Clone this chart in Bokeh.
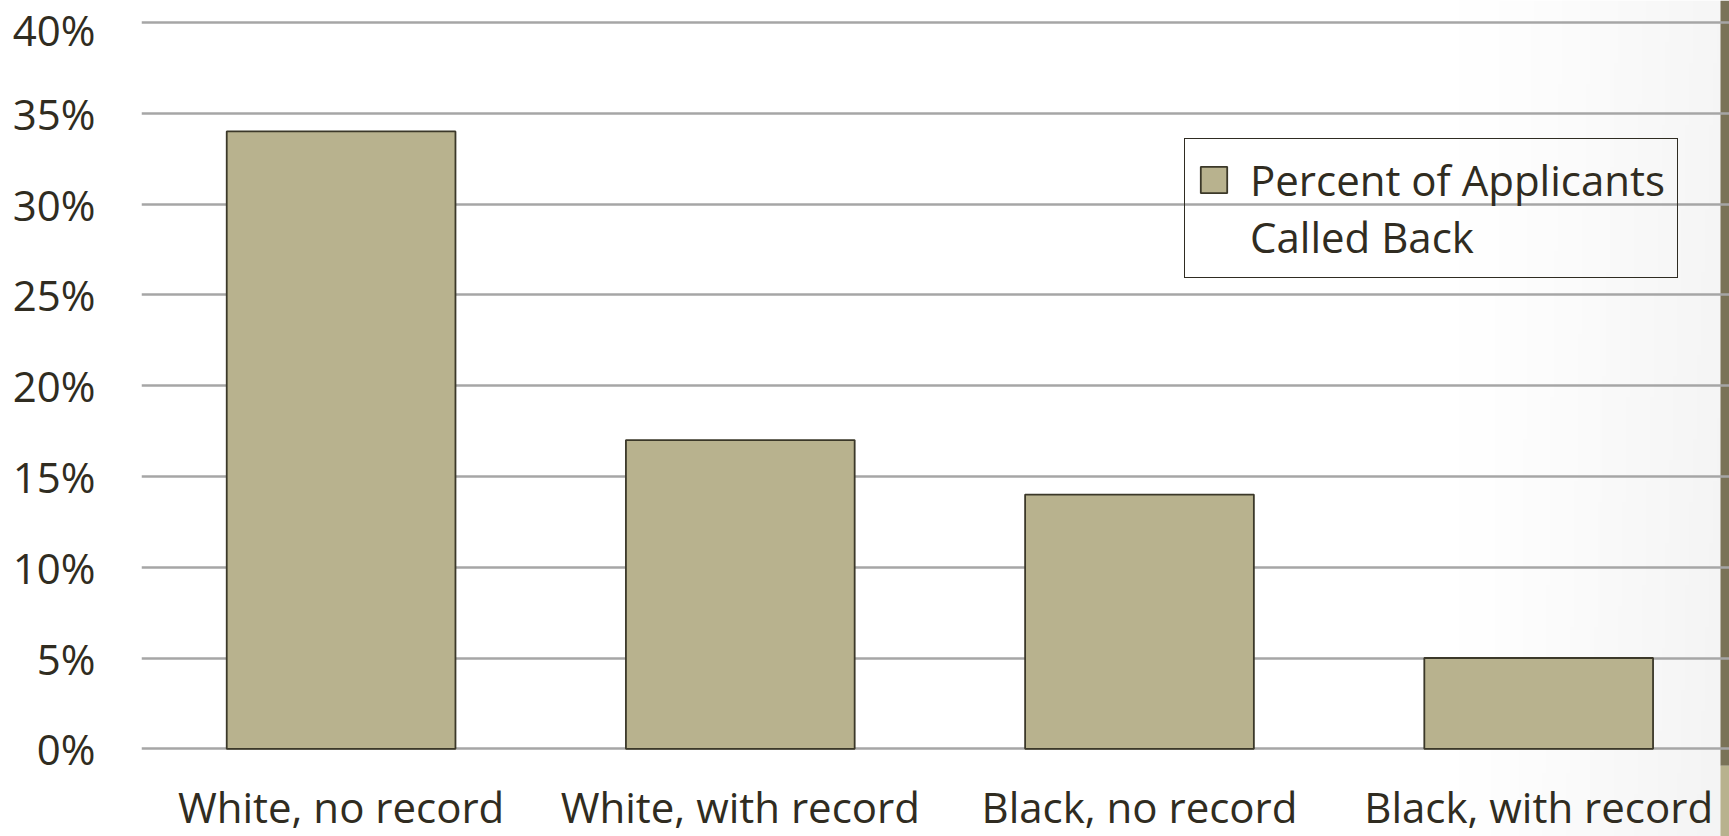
import numpy as np
from bokeh.plotting import figure
from bokeh.models import (Range1d, Legend, LegendItem, FixedTicker,
                          PrintfTickFormatter, ColumnDataSource)
from bokeh.core.properties import value
from bokeh.embed import file_html
from bokeh.resources import INLINE

# ---- data ----
categories = ["White, no record", "White, with record",
              "Black, no record", "Black, with record"]
values = [34, 17, 14, 5]           # percent of applicants called back
y_ticks = [0, 5, 10, 15, 20, 25, 30, 35, 40]
legend_lines = ["Percent of Applicants", "Called Back"]

x_pos = [i + 0.5 for i in range(len(categories))]
src = ColumnDataSource(dict(x=x_pos, top=values, cat=categories))

FONT = "Open Sans"
TXT = "#302c21"
X0, X1 = 0.0, 3.978
Y0, Y1 = -4.83, 41.21

p = figure(width=1729, height=836, output_backend="svg", toolbar_location=None,
           x_range=Range1d(X0, X1), y_range=Range1d(Y0, Y1),
           x_axis_location=None,
           min_border_left=141, min_border_right=0, min_border_top=0,
           min_border_bottom=0)
p.outline_line_color = None
p.background_fill_color = "white"
p.border_fill_color = "white"

# subtle background shading toward the right edge (slide background)
w, h = 400, 40
X, Y = np.meshgrid(np.linspace(0, 1, w), np.linspace(0, 1, h))
px = 141 + X * 1588
t = np.clip((px - 1460) / 260, 0, 1)
g = np.clip(255 - 9 * t ** 1.2 - 2 * t * (1 - Y), 0, 255).astype(np.uint32)
img = (np.uint32(255) << 24) | (g << 16) | (g << 8) | g
p.image_rgba(image=[img], x=X0, y=Y0, dw=X1 - X0, dh=Y1 - Y0, level="image")

# slide edge decoration strip
strip_left = X1 - 9 / 399.2
strip_split = -17 / 18.157
p.quad(left=[strip_left, strip_left], right=[X1, X1],
       bottom=[strip_split, Y0], top=[Y1, strip_split],
       fill_color=["#7a7358", "#b8b28e"], line_color=None, level="image")

r = p.vbar(x="x", top="top", bottom=0, width=0.573, source=src,
           fill_color="#b8b28e", line_color="#3b3829", line_width=1.8)

# category labels under each bar
p.text(x="x", y=0, text="cat", source=src, y_offset=58,
       text_align="center", text_baseline="alphabetic",
       text_font=value(FONT), text_font_size="42px", text_color=TXT)

# y axis
ax = p.yaxis[0]
ax.ticker = FixedTicker(ticks=y_ticks)
ax.formatter = PrintfTickFormatter(format="%d%%")
ax.axis_line_color = None
ax.major_tick_line_color = None
ax.minor_tick_line_color = None
ax.major_tick_out = 0
ax.major_tick_in = 0
ax.major_label_text_font = FONT
ax.major_label_text_font_size = "42px"
ax.major_label_text_color = TXT
ax.major_label_standoff = 46

p.xgrid.visible = False
p.ygrid.ticker = FixedTicker(ticks=y_ticks)
p.ygrid.grid_line_color = "#a6a6a6"
p.ygrid.grid_line_width = 2.5

legend = Legend(items=[LegendItem(label=legend_lines[0], renderers=[r]),
                       LegendItem(label=legend_lines[1], renderers=[])],
                location=(1043, 558),
                label_text_font=FONT, label_text_font_size="42px",
                label_text_color=TXT, glyph_width=33, glyph_height=33,
                padding=12, spacing=0, label_standoff=20, margin=0,
                border_line_color="#2f2c22", border_line_width=1.5,
                border_line_alpha=1.0, background_fill_alpha=0)
p.add_layout(legend)

open("out.html", "w").write(file_html(p, INLINE))
